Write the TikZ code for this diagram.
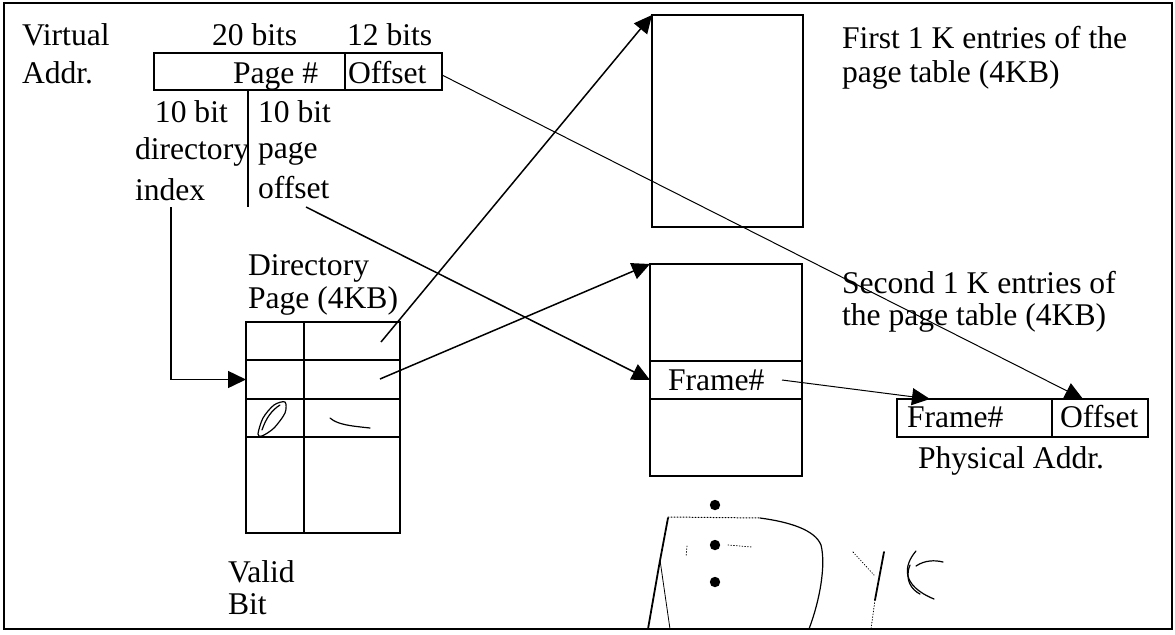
\documentclass[tikz,border=0pt]{standalone}
\usepackage{fontspec}
\setmainfont{Liberation Serif}
\usetikzlibrary{arrows.meta}
\begin{document}
\begin{tikzpicture}[x=0.5pt,y=-0.5pt,
  every node/.style={inner sep=0pt, outer sep=0pt},
  lbl/.style={anchor=base west, font=\fontsize{15.8}{18}\selectfont},
  cell/.style 2 args={draw, line width=0.8pt, anchor=north west,
    minimum width=#1*0.5pt, minimum height=#2*0.5pt},
  link/.style={line width=0.75pt, -{Triangle[length=9pt,width=8.5pt]}},
  thinlink/.style={line width=0.5pt, -{Triangle[length=9pt,width=8.5pt]}},
  hand/.style={line width=0.6pt, line cap=round, line join=round}
]
\useasboundingbox (0,0) rectangle (1175,634);
\draw[line width=1.1pt] (4,3) rectangle (1172,629);

% ---- virtual address ----
\node[lbl] (tvirt) at (22,45) {Virtual};
\node[lbl] (taddr) at (22,83) {Addr.};
\node[lbl] (t20) at (212,45) {20 bits};
\node[lbl] (t12) at (347,45) {12 bits};
\node[cell={191}{37}] (vpage) at (154,53) {};
\node[cell={97}{37}] (voff) at (345,53) {};
\node[lbl] (tpage) at (233,83) {Page \#};
\node[lbl] (tvoff) at (348,83) {Offset};
\coordinate (vsplit) at (248,90);
\coordinate (vsplitend) at (248,207);
\draw[line width=0.7pt] (vsplit) -- (vsplitend);
\node[lbl] (t10a) at (155,122) {10 bit};
\node[lbl] (t10b) at (258,122) {10 bit};
\node[lbl] (tdir) at (135,159) {directory};
\node[lbl] (tpg) at (258,158) {page};
\node[lbl] (tidx) at (135,200) {index};
\node[lbl] (toff) at (258,198) {offset};

% ---- directory page ----
\node[lbl] (tdirp) at (248,275) {Directory};
\node[lbl] (tdirq) at (248,308) {Page (4KB)};
\node[cell={58}{38}] (d1a) at (246,322) {};
\node[cell={96}{38}] (d1b) at (304,322) {};
\node[cell={58}{39}] (d2a) at (246,360) {};
\node[cell={96}{39}] (d2b) at (304,360) {};
\node[cell={58}{38}] (d3a) at (246,399) {};
\node[cell={96}{38}] (d3b) at (304,399) {};
\node[cell={58}{96}] (d4a) at (246,437) {};
\node[cell={96}{96}] (d4b) at (304,437) {};
\node[lbl] (tvalid) at (228,582) {Valid};
\node[lbl] (tbit) at (228,614) {Bit};
% pencil marks in the third entry
\draw[hand] plot[smooth cycle] coordinates {(258,434) (263,418) (274,405) (285,402) (285,413) (274,428) (262,436)};
\draw[hand] (262,430) .. controls (266,418) and (272,410) .. (280,405);
\draw[hand] (330,418) .. controls (338,425) and (352,426) .. (370,428);

% ---- page tables ----
\node[cell={151}{212}] (pt1) at (652,15) {};
\node[cell={152}{97}] (pt2) at (650,264) {};
\node[cell={152}{38}] (fr) at (650,361) {};
\node[cell={152}{77}] (pt2c) at (650,399) {};
\node[lbl] (tfr) at (668,390) {Frame\#};
\node[lbl] (tfirst) at (842,48) {First 1 K entries of the};
\node[lbl] (tfirstb) at (842,82) {page table (4KB)};
\node[lbl] (tsecond) at (842,293) {Second 1 K entries of};
\node[lbl] (tsecondb) at (842,325) {the page table (4KB)};

% ---- physical address ----
\node[cell={155}{38}] (pfr) at (897,399) {};
\node[cell={96}{38}] (poff) at (1052,399) {};
\node[lbl] (tpfr) at (907,427) {Frame\#};
\node[lbl] (tpoff) at (1060,427) {Offset};
\node[lbl] (tphys) at (918,468) {Physical Addr.};

% ---- connectors ----
\coordinate (ix) at (171,207);
\coordinate (e1) at (381,342);
\coordinate (e2) at (380,379);
\coordinate (po) at (306,207);
\coordinate (fs) at (782,380);
\coordinate (ft) at (930,399);
\coordinate (os) at (442,75);
\coordinate (ot) at (1083,399);
\draw[link] (ix) |- (d2a.west);
\draw[link] (e1) -- (pt1.north west);
\draw[link] (e2) -- (pt2.north west);
\draw[link] (po) -- (fr.west);
\draw[thinlink] (fs) -- (ft);
\draw[thinlink] (os) -- (ot);

% ---- continuation dots and pencil strokes ----
\fill (715,505) circle[radius=2.6pt];
\fill (715,545) circle[radius=2.6pt];
\fill (715,582) circle[radius=2.6pt];
\draw[hand, line width=0.9pt] (668,518) -- (659,566) -- (648,629);
\draw[hand, line width=0.4pt] (660,560) -- (670,629);
\draw[hand, line width=0.5pt, densely dotted] (668,517) -- (760,518);
\draw[hand] (760,518) .. controls (790,522) and (815,530) .. (821,545)
  .. controls (826,565) and (820,600) .. (809,629);
\draw[hand, line width=0.4pt, densely dotted] (687,546) -- (686,557);
\draw[hand, line width=0.4pt, densely dotted] (728,545) -- (752,547);
\draw[hand, line width=0.9pt] (884,552) -- (875,600);
\draw[hand, line width=0.4pt, densely dotted] (875,600) -- (871,629);
\draw[hand, line width=0.4pt, densely dotted] (853,552) -- (874,575);
\draw[hand] (916,551) .. controls (904,565) and (900,585) .. (934,599);
\draw[hand] (910,565) .. controls (904,580) and (912,590) .. (920,594);
\draw[hand] (916,566) .. controls (925,560) and (935,560) .. (943,562);
\end{tikzpicture}
\end{document}
